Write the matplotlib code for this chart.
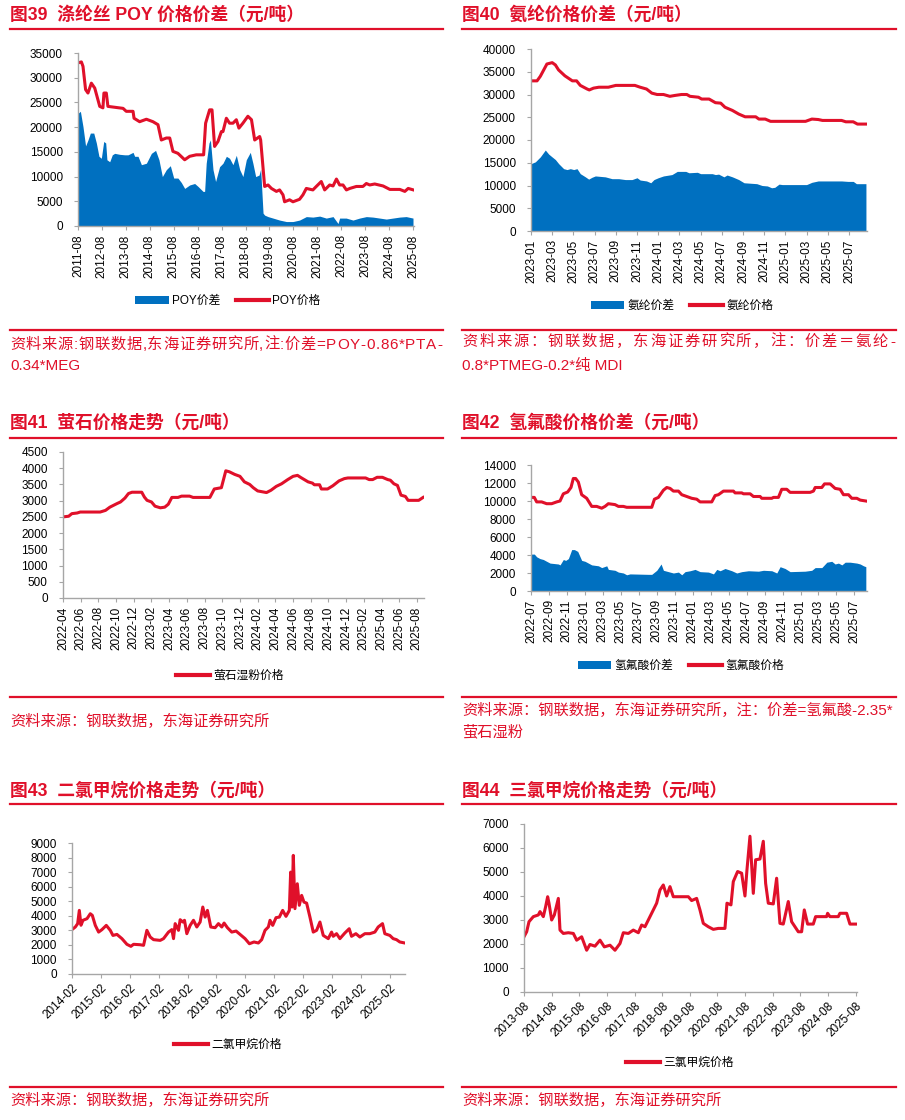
import numpy as np
import matplotlib
matplotlib.use("Agg")
import matplotlib.pyplot as plt
from matplotlib.lines import Line2D
from matplotlib.patches import Patch

plt.rcParams['font.family'] = ['Liberation Sans', 'Noto Sans CJK SC', 'DejaVu Sans']

RED = '#E0102A'
BLUE = '#0070C0'
GRAY = '#A6A6A6'

# ---------------- data (x = months since first tick) ----------------
# 图39 涤纶丝 POY, months since 2011-08
poy_price_m = [0, 1.7, 2.5, 3.8, 5.0, 6.7, 8.4, 10.9, 12.5, 13.0, 14.2, 15.0, 22.6, 24.2, 27.6,
               28.1, 30.9, 34.3, 37.6, 40.1, 41.8, 44.3, 46.0, 47.6, 50.1, 53.5, 56.0, 59.3, 63.0, 64.0,
               66.0, 67.2, 68.5, 70.2, 71.9, 72.7, 74.4, 76.0, 77.7, 79.4, 80.7, 82.7, 85.2, 87.0, 88.6,
               91.1, 91.6, 93.6, 95.3, 97.0, 99.5, 101.1, 102.8, 103.6, 106.1, 107.8, 111.1, 112.8, 114.5, 117.8,
               119.5, 122.0, 123.7, 126.2, 127.9, 129.6, 131.2, 132.9, 134.6, 136.3, 139.6, 142.9, 144.6, 146.3, 148.8,
               153.0, 156.4, 161.4, 163.9, 165.6, 168.2]
poy_price = [33000, 33200, 32300, 27600, 26900, 28900, 27900, 24200, 23900, 26900, 26900, 24200, 23800, 23200, 23200,
             21800, 21100, 21600, 21100, 20500, 17400, 17800, 17800, 15100, 14700, 13400, 14100, 14400, 14400, 20800,
             23500, 23500, 16100, 17100, 19100, 19100, 21800, 20800, 20800, 21500, 19800, 20800, 22200, 21500, 17400,
             18100, 17400, 8000, 8300, 7600, 7000, 7300, 6300, 4900, 5300, 4900, 5400, 6300, 7600, 7300,
             8000, 9000, 7300, 8300, 8100, 9500, 8300, 8300, 7300, 7600, 8000, 8000, 8600, 8300, 8500,
             8100, 7400, 7400, 7000, 7600, 7300]
poy_spread_m = [0, 1.2, 2.5, 3.8, 5.0, 6.2, 7.9, 9.2, 10.5, 11.7, 12.9, 13.9, 14.5, 15.9, 17.2,
                18.4, 20.9, 23.4, 25.1, 27.6, 28.4, 30.1, 31.8, 34.3, 36.8, 38.9, 40.6, 42.3, 44.3, 46.3,
                48.0, 50.1, 51.8, 53.5, 56.0, 58.5, 60.2, 62.7, 63.5, 64.3, 65.7, 66.4, 67.7, 69.0, 71.0,
                72.7, 74.4, 76.0, 77.7, 79.4, 81.1, 82.7, 84.4, 86.4, 87.7, 89.1, 90.8, 91.6, 92.8, 93.6,
                95.3, 97.8, 101.1, 104.5, 107.8, 111.1, 114.5, 117.8, 121.2, 124.5, 127.9, 130.4, 131.2, 134.5, 137.9,
                141.2, 144.6, 147.9, 151.3, 154.6, 157.9, 161.3, 164.6, 168.0]
poy_spread = [22800, 23200, 20100, 16200, 17400, 18800, 18800, 16800, 14100, 13700, 17100, 16800, 13400, 13000, 14400,
              14700, 14500, 14400, 14400, 14900, 14100, 14100, 12400, 12700, 14700, 15300, 13400, 10000, 11400, 12200,
              9700, 9700, 8800, 7600, 8300, 8600, 8000, 7000, 7000, 12700, 16800, 17400, 11400, 9000, 12000,
              12700, 14100, 13700, 12400, 14300, 11400, 10000, 13400, 14900, 12700, 10000, 10300, 11500, 2600, 2200,
              1900, 1600, 1200, 900, 900, 1200, 1900, 1800, 2000, 1600, 1900, 500, 1600, 1600, 1200,
              1600, 1900, 1800, 1600, 1400, 1600, 1800, 1900, 1600]
poy_xlabels = ['2011-08', '2012-08', '2013-08', '2014-08', '2015-08', '2016-08', '2017-08', '2018-08',
               '2019-08', '2020-08', '2021-08', '2022-08', '2023-08', '2024-08', '2025-08']

# 图40 氨纶, months since 2023-01
sp_price_m = [0, 0.57, 0.88, 1.5, 2.0, 2.3, 2.6, 3.2, 3.9, 4.3, 4.65, 5.3, 5.5, 5.9, 6.4,
              7.3, 8.0, 9.8, 10.3, 10.9, 11.4, 11.9, 12.5, 13.1, 13.6, 14.2, 14.7, 15.0, 15.8, 16.1,
              16.8, 17.4, 17.9, 18.3, 19.0, 19.6, 20.2, 21.2, 21.5, 22.1, 22.6, 24.0, 25.9, 26.5, 27.1,
              27.5, 29.3, 29.7, 30.4, 30.8, 31.6]
sp_price = [33000, 33000, 34000, 36700, 37000, 36500, 35400, 34100, 33000, 33000, 32000, 31200, 31000, 31400, 31600,
            31600, 32000, 32000, 31600, 31200, 30300, 30000, 30000, 29600, 29800, 30000, 30000, 29600, 29400, 29000,
            29000, 28200, 28100, 27200, 26500, 25700, 25100, 25100, 24600, 24600, 24100, 24100, 24100, 24600, 24500,
            24300, 24300, 24000, 24000, 23500, 23500]
sp_spread_m = [0, 0.41, 0.88, 1.35, 1.67, 1.98, 2.3, 2.61, 3.08, 3.4, 3.71, 4.03, 4.34, 4.65, 5.13,
               5.44, 5.75, 6.07, 7.01, 7.64, 8.27, 8.9, 9.53, 10.0, 10.3, 10.9, 11.3, 11.6, 12.0, 12.5,
               13.3, 13.8, 14.6, 14.9, 15.7, 16.0, 17.1, 17.4, 17.7, 18.2, 18.5, 19.0, 19.6, 20.1, 21.3,
               21.8, 22.3, 22.7, 23.0, 23.4, 23.7, 24.0, 26.0, 26.5, 27.1, 29.3, 29.9, 30.4, 30.7, 31.6]
sp_spread = [14800, 15200, 16300, 17800, 16900, 16300, 15700, 14800, 13700, 13500, 13700, 13500, 13700, 12600, 11900,
             11400, 11800, 12100, 11900, 11500, 11500, 11300, 11300, 11700, 11200, 11000, 10600, 11300, 11700, 12100,
             12400, 13100, 13100, 12800, 12900, 12600, 12600, 12400, 12500, 11900, 12300, 11900, 11300, 10600, 10400,
             10000, 9900, 9500, 9600, 10300, 10200, 10200, 10200, 10700, 11000, 11000, 10900, 10900, 10400, 10400]
sp_xlabels = ['2023-01', '2023-03', '2023-05', '2023-07', '2023-09', '2023-11', '2024-01', '2024-03',
              '2024-05', '2024-07', '2024-09', '2024-11', '2025-01', '2025-03', '2025-05', '2025-07']

# 图41 萤石湿粉, months since 2022-04
fl_m = [0, 0.64, 1.0, 1.6, 1.95, 4.2, 4.8, 5.3, 6.1, 6.5, 7.0, 7.4, 7.8, 8.9, 9.2,
        9.5, 10.0, 10.4, 11.0, 11.5, 11.9, 12.3, 13.0, 13.4, 14.3, 14.7, 16.6, 17.1, 17.9, 18.4,
        18.8, 19.4, 20.0, 20.5, 21.1, 21.5, 22.0, 23.0, 23.5, 24.1, 24.7, 25.4, 26.0, 26.5, 26.9,
        27.7, 28.2, 28.4, 29.0, 29.2, 29.9, 30.5, 31.2, 31.8, 32.2, 34.2, 34.6, 35.0, 35.5, 36.1,
        36.7, 37.0, 37.4, 37.8, 38.2, 38.7, 39.0, 40.2, 40.7]
fl_price = [2500, 2520, 2600, 2620, 2650, 2650, 2700, 2800, 2910, 2960, 3080, 3220, 3260, 3260, 3110,
            3010, 2960, 2830, 2780, 2800, 2890, 3100, 3100, 3140, 3140, 3100, 3100, 3360, 3400, 3920,
            3890, 3810, 3750, 3580, 3500, 3400, 3300, 3250, 3320, 3440, 3520, 3650, 3750, 3780, 3710,
            3580, 3540, 3490, 3490, 3360, 3360, 3460, 3610, 3680, 3700, 3700, 3650, 3650, 3720, 3720,
            3650, 3630, 3520, 3470, 3170, 3130, 3010, 3010, 3100]
fl_xlabels = ['2022-04', '2022-06', '2022-08', '2022-10', '2022-12', '2023-02', '2023-04', '2023-06',
              '2023-08', '2023-10', '2023-12', '2024-02', '2024-04', '2024-06', '2024-08', '2024-10',
              '2024-12', '2025-02', '2025-04', '2025-06', '2025-08']

# 图42 氢氟酸, months since 2022-07
hf_price_m = [0, 0.37, 0.63, 1.19, 1.74, 2.3, 2.86, 3.23, 3.6, 4.08, 4.45, 4.71, 4.97, 5.27, 5.64,
              6.2, 6.76, 7.31, 7.87, 8.24, 8.61, 9.35, 9.73, 10.28, 10.65, 13.44, 13.74, 14.18, 14.74, 15.11,
              15.48, 15.85, 16.41, 16.78, 17.34, 17.89, 18.45, 18.82, 20.12, 20.49, 20.86, 21.42, 22.53, 22.72, 23.46,
              23.65, 24.39, 24.76, 25.5, 25.69, 26.8, 26.99, 27.54, 27.91, 28.47, 28.84, 31.07, 31.44, 31.63, 32.37,
              32.67, 33.3, 33.85, 34.41, 34.78, 35.34, 35.71, 36.27, 36.64, 37.27]
hf_price = [10400, 10400, 9900, 9900, 9700, 9700, 9900, 10000, 10800, 11000, 11500, 12500, 12500, 12100, 10700,
            10300, 9400, 9400, 9200, 9400, 9700, 9600, 9400, 9400, 9300, 9300, 10200, 10400, 11200, 11500,
            11400, 11100, 11100, 10700, 10500, 10300, 10200, 9900, 9900, 10600, 10700, 11100, 11100, 10900, 10900,
            10800, 10800, 10500, 10500, 10300, 10300, 10400, 10400, 11300, 11300, 10960, 10960, 11100, 11500, 11500,
            11900, 11900, 11400, 11300, 10700, 10700, 10300, 10300, 10100, 10000]
hf_spread_m = [0, 0.37, 0.63, 1.0, 1.37, 1.74, 2.12, 3.04, 3.23, 3.6, 3.86, 4.16, 4.53, 4.83, 5.2,
               5.64, 6.01, 6.76, 7.5, 7.87, 8.43, 8.61, 9.35, 9.73, 10.28, 10.65, 11.02, 13.07, 13.44, 14.0,
               14.48, 14.74, 15.29, 15.85, 16.41, 16.78, 17.15, 17.71, 18.26, 18.82, 19.75, 20.31, 20.68, 21.05, 21.6,
               22.35, 22.9, 23.46, 24.2, 25.32, 25.87, 26.8, 27.36, 27.73, 28.28, 28.84, 30.51, 31.25, 31.63, 32.37,
               32.93, 33.48, 33.85, 34.22, 34.6, 34.97, 35.52, 36.27, 36.64, 37.01, 37.27]
hf_spread = [4100, 4100, 3800, 3600, 3500, 3300, 3100, 3000, 2900, 3500, 3400, 3600, 4600, 4600, 4400,
             3400, 3300, 2900, 2800, 2600, 2800, 2400, 2300, 2100, 2000, 1800, 1900, 1850, 1850, 2300,
             3000, 2300, 2150, 2000, 2100, 1800, 2150, 2250, 2400, 2150, 2100, 1900, 2400, 2250, 2500,
             2250, 2000, 2150, 2250, 2200, 2300, 2250, 2000, 2700, 2500, 2150, 2200, 2300, 2600, 2600,
             3200, 3300, 3000, 3100, 2900, 3200, 3200, 3100, 3000, 2800, 2700]
hf_xlabels = ['2022-07', '2022-09', '2022-11', '2023-01', '2023-03', '2023-05', '2023-07', '2023-09',
              '2023-11', '2024-01', '2024-03', '2024-05', '2024-07', '2024-09', '2024-11', '2025-01',
              '2025-03', '2025-05', '2025-07']

# 图43 二氯甲烷, months since 2014-02
dcm_m = [0, 1.38, 2.35, 3.04, 3.73, 4.56, 6.22, 7.6, 8.43, 9.68, 11.06, 12.44, 14.24, 15.9, 17.0,
         18.66, 20.73, 22.8, 24.46, 25.57, 28.33, 29.72, 31.1, 32.48, 33.87, 36.63, 38.01, 40.08, 41.47, 42.16,
         42.85, 44.23, 44.92, 46.03, 46.72, 47.69, 49.07, 50.45, 51.83, 53.21, 54.32, 55.29, 56.25, 57.64, 59.43,
         60.82, 62.2, 63.17, 64.55, 66.34, 68.14, 69.8, 71.87, 73.67, 75.6, 77.4, 78.78, 80.17, 81.55, 82.24,
         83.35, 84.73, 86.11, 87.49, 88.87, 90.26, 90.81, 91.36, 91.91, 92.6, 93.57, 94.4, 95.37, 96.34, 97.44,
         98.82, 100.2, 101.59, 102.97, 104.35, 106.43, 107.81, 108.5, 109.88, 111.26, 113.34, 115.13, 116.1, 117.9, 119.56,
         121.63, 123.7, 125.78, 127.16, 128.96, 129.92, 132.0, 133.38, 134.76, 136.14, 138.22]
dcm_price = [3050, 3230, 3460, 4370, 3350, 3690, 3800, 4140, 4030, 3340, 2880, 3050, 3340, 3000, 2650,
             2720, 2430, 2040, 1900, 2040, 2010, 1970, 3000, 2540, 2360, 2310, 2430, 2880, 3050, 2430,
             3460, 3000, 3730, 3570, 3690, 2770, 3340, 3690, 3230, 3570, 4600, 3910, 4370, 3230, 3180,
             3460, 3230, 3500, 3180, 2880, 2950, 2720, 2430, 2080, 2200, 2130, 2360, 3000, 3230, 3690,
             3340, 3870, 3910, 4370, 3960, 4370, 7000, 4600, 8150, 4490, 6200, 4720, 5400, 4940, 4870,
             3910, 2880, 3000, 3570, 2650, 2430, 2880, 2590, 2770, 2430, 2820, 3110, 2590, 2770, 2540,
             2770, 2770, 2880, 3230, 3460, 2770, 2650, 2430, 2360, 2200, 2130]
dcm_xlabels = ['2014-02', '2015-02', '2016-02', '2017-02', '2018-02', '2019-02', '2020-02', '2021-02',
               '2022-02', '2023-02', '2024-02', '2025-02']

# 图44 三氯甲烷, months since 2013-08
tcm_m = [0, 1.16, 2.17, 4.05, 6.22, 6.95, 8.39, 9.41, 10.27, 10.85, 12.01, 13.17, 14.91, 15.63, 17.08,
         19.25, 21.42, 22.87, 25.04, 27.21, 28.65, 30.82, 33.0, 34.88, 37.34, 39.51, 41.68, 43.13, 45.3, 47.47,
         49.64, 51.09, 52.53, 55.43, 57.6, 59.04, 60.49, 61.94, 63.39, 64.83, 71.35, 72.79, 74.96, 76.41, 77.86,
         80.03, 82.2, 84.37, 87.26, 88.13, 89.87, 90.88, 92.76, 94.5, 95.95, 96.82, 98.12, 99.57, 100.58, 102.46,
         103.91, 104.92, 106.08, 108.25, 109.7, 111.14, 112.59, 114.76, 116.21, 117.66, 119.1, 120.55, 121.71, 123.15, 125.62,
         126.63, 131.4, 131.84, 132.85, 136.47, 137.19, 140.09, 141.53, 144.43]
tcm_price = [2300, 2510, 2930, 3140, 3210, 3350, 3140, 3560, 3970, 3700, 3000, 3210, 3900, 2580, 2440,
             2470, 2440, 2160, 2300, 1740, 1980, 1910, 2160, 1880, 1950, 1740, 2020, 2470, 2440, 2580,
             2470, 2790, 2720, 3280, 3700, 4250, 4460, 4000, 4390, 3970, 3970, 3810, 3900, 3420, 2860,
             2720, 2610, 2650, 2650, 3700, 3630, 4600, 5020, 4950, 4000, 5090, 6490, 4110, 5510, 5540,
             6280, 4530, 3700, 3670, 4740, 2860, 2830, 3770, 2930, 2720, 2510, 2510, 3420, 2830, 2830,
             3140, 3140, 3280, 3140, 3140, 3280, 3280, 2830, 2830]
tcm_xlabels = ['2013-08', '2014-08', '2015-08', '2016-08', '2017-08', '2018-08', '2019-08', '2020-08',
               '2021-08', '2022-08', '2023-08', '2024-08', '2025-08']

SRC = '资料来源：钢联数据，东海证券研究所'

# ---------------- figure ----------------
W, H = 905, 1120
fig = plt.figure(figsize=(W / 100, H / 100), dpi=100)
renderer = fig.canvas.get_renderer()


def px_axes(left, top, width, height):
    return fig.add_axes([left / W, 1 - (top + height) / H, width / W, height / H])


def style(ax, xmax, ymax, ystep, tick_step, labels, rot):
    ax.set_xlim(0, xmax)
    ax.set_ylim(0, ymax)
    ax.set_yticks(np.arange(0, ymax + 1, ystep))
    ax.set_xticks(np.arange(len(labels)) * tick_step)
    if rot == 90:
        ax.set_xticklabels(labels, rotation=90)
    else:
        ax.set_xticklabels(labels, rotation=45, ha='right', va='top', rotation_mode='anchor')
    for s in ['top', 'right']:
        ax.spines[s].set_visible(False)
    for s in ['left', 'bottom']:
        ax.spines[s].set_color(GRAY)
        ax.spines[s].set_linewidth(1)
    ax.tick_params(direction='out', length=3, width=0.8, color=GRAY, labelsize=8.5)
    ax.tick_params(axis='y', pad=8)
    ax.tick_params(axis='x', pad=3)


def hrule(x0, x1, y):
    fig.add_artist(Line2D([x0 / W, x1 / W], [1 - y / H, 1 - y / H], color=RED, lw=1.6))


def ftext(x, y, s, **kw):
    return fig.text(x / W, 1 - y / H, s, va='center', ha='left', **kw)


def src(x, y, s):
    ftext(x, y, s, fontsize=11, color=RED)


def src_justified(x0, x1, y, s):
    # spread the characters over the full column width, as in the source
    widths = []
    for ch in s:
        t = ftext(0, 0, ch, fontsize=11)
        widths.append(t.get_window_extent(renderer).width)
        t.remove()
    gap = (x1 - x0 - sum(widths)) / (len(s) - 1)
    x = x0
    for ch, w in zip(s, widths):
        ftext(x, y, ch, fontsize=11, color=RED)
        x += w + gap


def title(x, y, s):
    ftext(x, y, s, fontsize=12.8, fontweight='bold', color=RED)


def legend(ax, cx, cy, handles, labels):
    ax.legend(handles, labels, loc='center', bbox_to_anchor=(cx / W, 1 - cy / H),
              bbox_transform=fig.transFigure, ncol=2, frameon=False, fontsize=8.5,
              handlelength=2.8, handleheight=0.6, columnspacing=1.3, handletextpad=0.3)


area_h = Patch(facecolor=BLUE, edgecolor='none')
line_h = Line2D([], [], color=RED, lw=3)

# 图39
ax = px_axes(78, 53, 336, 173)
ax.fill_between(poy_spread_m, poy_spread, color=BLUE, lw=0)
ax.plot(poy_price_m, poy_price, color=RED, lw=2.2)
style(ax, 168.5, 35000, 5000, 12, poy_xlabels, 90)
legend(ax, 228, 301, [area_h, line_h], ['POY价差', 'POY价格'])
title(10, 15, '图39  涤纶丝 POY 价格价差（元/吨）')
hrule(10, 443, 29)
hrule(10, 443, 330)
src_justified(10, 442, 345, '资料来源:钢联数据,东海证券研究所,注:价差=POY-0.86*PTA-')
src(10, 366, '0.34*MEG')

# 图40
ax = px_axes(531, 49, 336, 182)
ax.fill_between(sp_spread_m, sp_spread, color=BLUE, lw=0)
ax.plot(sp_price_m, sp_price, color=RED, lw=2.2)
style(ax, 31.7, 40000, 5000, 2, sp_xlabels, 90)
legend(ax, 682, 306, [area_h, line_h], ['氨纶价差', '氨纶价格'])
title(462, 15, '图40  氨纶价格价差（元/吨）')
hrule(462, 896, 29)
hrule(462, 896, 330)
src_justified(462, 895, 342, '资料来源：钢联数据，东海证券研究所，注：价差＝氨纶-')
src(462, 366, '0.8*PTMEG-0.2*纯 MDI')

# 图41
ax = px_axes(63, 452, 361, 146)
ax.plot(fl_m, fl_price, color=RED, lw=2.2)
style(ax, 40.8, 4500, 500, 2, fl_xlabels, 90)
legend(ax, 230, 676, [line_h], ['萤石湿粉价格'])
title(10, 423, '图41  萤石价格走势（元/吨）')
hrule(10, 443, 438)
hrule(10, 443, 697)
src(10, 721, SRC)

# 图42
ax = px_axes(531, 465, 336, 126)
ax.fill_between(hf_spread_m, hf_spread, color=BLUE, lw=0)
ax.plot(hf_price_m, hf_price, color=RED, lw=2.2)
style(ax, 37.4, 14000, 2000, 2, hf_xlabels, 90)
legend(ax, 681, 666, [area_h, line_h], ['氢氟酸价差', '氢氟酸价格'])
title(462, 423, '图42  氢氟酸价格价差（元/吨）')
hrule(462, 896, 438)
hrule(462, 896, 697)
src(462, 710, '资料来源：钢联数据，东海证券研究所，注：价差=氢氟酸-2.35*')
src(462, 732, '萤石湿粉')

# 图43
ax = px_axes(72, 843, 333, 131)
ax.plot(dcm_m, dcm_price, color=RED, lw=2.2)
style(ax, 138.3, 9000, 1000, 12, dcm_xlabels, 45)
legend(ax, 228, 1045, [line_h], ['二氯甲烷价格'])
title(10, 791, '图43  二氯甲烷价格走势（元/吨）')
hrule(10, 443, 804)
hrule(10, 443, 1087)
src(10, 1100, SRC)

# 图44
ax = px_axes(524, 824, 333, 168)
ax.plot(tcm_m, tcm_price, color=RED, lw=2.2)
style(ax, 144.6, 7000, 1000, 12, tcm_xlabels, 45)
legend(ax, 680, 1063, [line_h], ['三氯甲烷价格'])
title(462, 791, '图44  三氯甲烷价格走势（元/吨）')
hrule(462, 896, 804)
hrule(462, 896, 1087)
src(462, 1100, SRC)

fig.savefig('out.png', dpi=100)
